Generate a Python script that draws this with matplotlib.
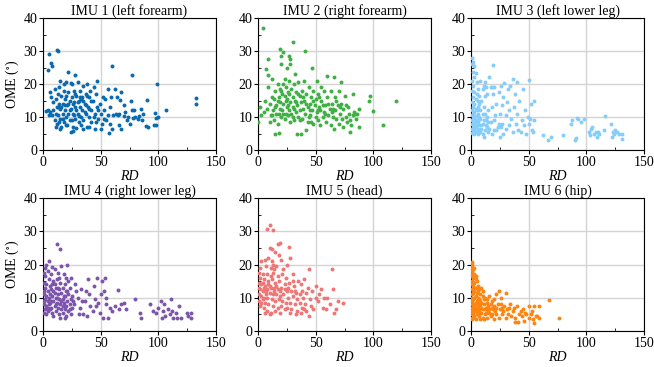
import matplotlib
matplotlib.use("Agg")
import matplotlib.pyplot as plt
from matplotlib.ticker import MultipleLocator
import numpy as np

plt.rcParams['font.family'] = ['Liberation Serif', 'DejaVu Serif']
plt.rcParams['mathtext.fontset'] = 'stix'

titles = ['IMU 1 (left forearm)', 'IMU 2 (right forearm)', 'IMU 3 (left lower leg)',
          'IMU 4 (right lower leg)', 'IMU 5 (head)', 'IMU 6 (hip)']
colours = ['#0b6aae', '#3fb044', '#85cdfb', '#7c55ab', '#f07575', '#ff8410']

# (RD, OME) points
imu1 = [(5,29.2),(4,24.3),(7,26.4),(8,25.6),(12,30.3),(13,30.1),(22,23.6),(28,22.8),(60,25.4),(77,22.8),
        (99,20.1),(133,15.8),(133,13.9),(107,12.1),(100,10.1),(98,9.6),(97,11.1),(96,7.6),(98,7.6),(90,15.1),
        (91,6.9),(89,7.2),(86,9.2),(85,12.5),(83,10.2),(82,9.3),(79,12.1),(78,9.6),(77,12.2),(76,14.9),
        (74,10.1),(71,11.6),(70,10.4),(68,17.5),(68,6.5),(67,15.2),(66,11),(64,16),(62,18.5),(61,10.6),
        (60,6.4),(59,16),(58,13),(57,5.1),(56,18.5),(55,9),(54,15.5),(53,12),(52,16),(51,8),(50,11),
        (49,14),(48,9.5),(47,21),(47,13),(46,17),(45,6.4),(45,11),(44,19),(43,15),(42,8.5),(42,12),
        (41,18),(40,10),(40,16),(39,13),(38,7),(38,20),(37,11),(37,17),(36,14),(35,9),(35,19.5),(34,12),
        (34,16),(33,7.5),(33,10),(32,18),(32,13),(31,15),(31,8.5),(30,20.5),(30,11),(29,16.5),(29,6.8),
        (28,13),(28,9.5),(27,18),(27,14.5),(26,11),(26,7),(25,16),(25,20),(24,5.6),(24,12.5),(23,9),
        (23,15),(22,17.5),(22,11),(21,13.5),(21,7.5),(20,20.5),(20,10),(19,15.5),(19,12),(18,8.5),(18,18),
        (17,14),(17,11),(16,16.5),(16,7),(15,12.5),(15,9.5),(14,19),(14,14),(13,10.5),(13,17),(12,8),
        (12,13),(11,15.5),(11,11),(10,18.5),(10,9),(9,12),(9,14.5),(8,10.5),(7,16),(6,17.5),(6,11.5),
        (5,10.5),(4,12),(3,11.8),(15,21),(18,20),(24,20.3),(26,14),(30,14.5),(35,15),(28,17),(20,16.5),
        (22,14),(33,15.5),(37,13.5),(40,12.5),(44,10),(48,12),(53,9.5),(25,9),(17,9.5),(14,8.5),(31,10.3),
        (36,11.5),(19,13.5),(23,12),(27,10.5),(42,15),(13,13),(11,7),(16,13),(29,12),(32,16),(46,8.5),
        (38,16.5),(56,10.5),(63,11),(66,7.5),(73,9),(80,10),(87,11),(58,8),(65,10.5),(70,13.5),(75,8),
        (15,6.5),(20,7.5),(26,5.8),(35,6.5),(40,7),(50,6.3)]

imu2 = [(4,37.1),(0,8.4),(2,13),(3,10.5),(5,11.5),(6,15),(7,24.6),(8,12.5),(9,27.5),(9,22.6),(9,19),
        (10,8.5),(10,14),(11,10.5),(12,16),(12,21.5),(13,12),(14,9),(14,15.5),(15,4.7),(15,18),(16,11),
        (16,13.5),(17,20),(17,8),(18,5.1),(18,16),(19,30.6),(19,12.5),(19,14.5),(20,28.6),(20,26.2),(20,10),
        (20,18),(21,17),(21,12),(22,29.6),(22,20),(22,14),(23,9.5),(23,16.5),(24,11),(24,19),(25,24.8),
        (25,13),(25,15.5),(26,17.5),(26,10.5),(27,28.6),(27,12),(27,21),(28,27.6),(28,26.1),(28,8.5),
        (28,14.5),(29,18.5),(29,11),(30,32.8),(30,16),(30,13),(31,20),(31,9),(32,23),(32,15),(33,11.5),
        (33,17.5),(34,5),(34,13.5),(35,20.5),(35,10),(36,16.5),(36,12),(37,4.9),(37,14.5),(38,18),(38,9.5),
        (39,12.5),(40,21),(40,15),(41,30),(41,11),(42,6),(42,17),(43,13),(43,8.5),(44,19),(45,14),
        (45,10.5),(46,16),(47,24.8),(47,12),(48,8),(48,18),(49,13.5),(50,10),(50,15.5),(51,21),(51,11.5),
        (52,9),(52,17),(53,13),(54,7.5),(54,12),(55,15),(55,19),(56,10),(57,11.5),(58,13.5),(59,8.5),
        (60,22.5),(60,16),(61,10.5),(62,12.5),(63,7.5),(63,18),(64,14),(65,10),(66,22),(66,6.5),(67,12),
        (67,16),(68,9.5),(69,13.5),(70,8),(70,18),(71,11),(72,20.5),(72,14),(73,9.5),(74,7),(74,12.5),
        (75,16.5),(76,10),(77,8.5),(78,13),(79,11),(80,5.5),(80,9),(81,7.5),(82,17),(82,10.5),(83,11.5),
        (84,11),(85,9.5),(86,10.8),(88,7),(88,12.5),(96,15),(97,16.5),(100,11.8),(108,7.5),(120,15),
        (15,13),(18,11),(22,11),(24,15),(26,13.5),(30,10),(33,14.5),(36,9),(39,16),(42,14),(45,12),
        (48,15),(53,16),(56,13.5),(58,11),(61,14),(64,11.5),(68,15),(71,13),(27,17),(19,18.5),(23,21.5),
        (35,17),(44,10),(12,10.5),(17,15),(31,12.5),(46,8.5),(52,12),(57,18),(65,12.5),(76,13.5)]

imu3 = [(1,27.8),(2,26.8),(1,26.1),(3,25.6),(2,23.5),(4,23.3),(3,22),(1,21),(5,20.5),(2,19.5),(1,18),
        (3,17.5),(5,17),(2,16),(4,15.5),(1,14.5),(6,15),(3,14),(7,14),(2,13),(4,12.5),(1,12),(5,12),
        (3,11.5),(6,11),(2,11),(1,10.5),(4,10.3),(7,10),(3,9.8),(2,9.5),(5,9.2),(1,9),(4,8.8),(6,8.6),
        (3,8.3),(2,8),(1,7.8),(5,7.6),(7,7.5),(3,7.3),(4,7),(2,6.8),(1,6.5),(6,6.3),(3,6.1),(5,5.9),
        (2,5.7),(4,5.5),(1,5.3),(3,5),(6,4.9),(8,5.5),(9,6.5),(10,8),(11,4),(12,6),(13,9),(14,7),(15,5.5),
        (8,12),(9,15),(10,11),(11,13),(12,16.5),(13,19),(14,10),(15,12),(16,22.1),(16,6.5),(17,19),
        (17,8.5),(18,13),(19,25.8),(19,17),(20,19),(20,6),(21,10.5),(22,14),(23,7),(24,17.5),(25,4),
        (25,11),(26,19.3),(27,8),(27,13.5),(28,16),(29,20.3),(30,6.5),(30,10.5),(31,14.5),(32,18.5),
        (33,7.5),(33,12),(34,19.5),(35,9.5),(36,21.6),(36,5.5),(37,13),(38,17),(39,8),(40,20.5),(40,11),
        (41,6),(42,15),(43,5.5),(44,9),(45,18.5),(46,7.5),(47,12),(48,5),(49,10),(50,21.3),(50,8),
        (51,9.5),(52,14),(53,6),(55,15),(55,9),(54,5.5),(62,4.5),(67,3),(69,4),(80,4.5),(87,8),(88,9),
        (90,3),(91,3.5),(92,9.8),(93,9.5),(95,8.5),(98,9.3),(102,5.5),(103,4.5),(104,6.5),(105,7),
        (107,5),(108,5.5),(109,4),(110,5.5),(111,5),(115,6),(116,10.3),(121,8),(122,4),(123,5.5),
        (124,5),(125,6),(127,5.5),(128,5),(131,4.7),(131,3.3),(10,18.5),(12,20.5),(14,17),(6,13),
        (8,9.5),(9,7.5),(10,5),(11,9),(12,11),(13,7.5),(15,8.5),(18,5),(20,9),(22,6),(24,8),(26,7),
        (28,5),(8,21),(11,19.5),(18,19),(6,18.5),(7,16.5)]

imu4 = [(12,26.2),(15,24.8),(5,21),(3,20),(2,19),(8,19.2),(16,19.5),(21,19.8),(1,17.5),(4,18),(7,17),
        (10,18.5),(13,17.5),(18,17),(20,16),(24,16),(2,16.5),(5,15.5),(9,15),(12,15.5),(15,14.5),(19,14),
        (22,15),(1,14.5),(3,14),(6,13.5),(8,14),(11,13),(14,12.5),(17,13),(20,12),(23,13),(2,13),(4,12),
        (7,12.5),(10,11.5),(13,11),(16,11.5),(19,10.5),(22,11),(25,10.5),(1,11),(3,10.5),(5,10),(8,10.5),
        (11,10),(14,9.5),(17,9.5),(21,9),(24,9.5),(2,9.5),(4,9),(6,8.5),(9,9),(12,8.5),(15,8),(18,8.5),
        (20,7.5),(23,8),(1,8),(3,7.5),(5,8),(7,7),(10,7.5),(13,7),(16,6.5),(19,6.5),(22,6),(25,7),(2,6.5),
        (4,6),(6,6.5),(8,5.5),(11,6),(14,5),(17,5.5),(20,4.5),(24,5),(1,5.5),(3,5),(9,4.5),(15,4),(19,4),
        (28,14),(30,10),(32,7),(33,12.5),(35,5),(36,9),(37,12),(38,4.5),(39,15.7),(40,11),(41,7.5),
        (43,6),(44,13.5),(45,9.5),(46,7.5),(47,16),(48,8.5),(49,5.5),(50,11),(51,15),(52,4),(53,12),
        (54,16),(55,8),(55,10),(56,4),(58,7),(60,6),(62,7.5),(65,12.3),(66,6.5),(68,8),(70,8.5),(72,6.5),
        (80,9.5),(84,5.5),(85,4),(93,8),(95,6),(98,5.5),(100,7),(102,9),(103,4),(104,6),(105,8),
        (106,4.5),(108,6.5),(110,5),(111,9.5),(112,6),(113,4),(115,5.5),(116,4),(118,7.5),(120,4),
        (125,5.5),(126,4.5),(128,5.5),(128,4),(27,8),(29,12),(31,5),(34,9),(0.5,12),(0.5,9),(6,11),
        (9,12),(12,10),(18,10.5),(21,12),(23,6.5),(26,9),(10,14),(14,16),(16,9),(4,7),(7,9),(11,8),
        (13,13),(17,7.5)]

imu5 = [(10,32),(8,30.8),(13,30.5),(10,25),(12,24.8),(17,26.1),(19,26.5),(27,25.2),(15,23.8),(18,23),
        (28,22),(9,22),(12,21),(6,21.3),(3,21),(20,21.5),(25,20),(2,19),(7,19.5),(11,19),(14,18.5),
        (22,18.5),(44,18.7),(64,18.7),(1,17.5),(4,17),(8,17),(13,17.5),(17,16.5),(21,17),(24,16),(30,17),
        (35,15),(40,15.5),(2,16),(5,15.5),(9,15),(12,15.5),(15,14.5),(18,15),(23,14),(27,14.5),(31,13.5),
        (37,14),(43,13),(50,13.5),(55,12.5),(65,12.5),(1,14.5),(3,14),(6,13.5),(9,14),(11,13),(14,13),
        (17,12.5),(20,13),(25,12),(29,12),(33,11.5),(38,12),(42,11.5),(47,12),(53,11),(60,10),(0.5,13),
        (2,12.5),(4,12),(7,12),(10,11.5),(13,11),(16,11),(19,10.5),(22,11),(26,10),(30,10.5),(34,9.5),
        (39,10),(45,9.5),(50,10),(57,10),(1,11),(3,10.5),(5,10),(8,10),(12,9.5),(15,9),(18,9.5),(21,9),
        (24,8.5),(28,8.5),(32,8),(36,8.5),(41,8),(46,7.5),(52,9),(59,6.5),(1,9),(3,8.5),(6,8.5),(9,8),
        (13,7.5),(17,7),(20,7.5),(25,7),(29,6.5),(34,6),(38,7),(42,6),(48,6.5),(2,7.5),(5,7),(8,6),
        (11,5.5),(15,6),(19,5.5),(23,6.5),(28,5.5),(33,5),(37,5.5),(44,4.5),(40,6.5),(66,5.5),(68,6.5),
        (69,9),(74,8.5),(62,8),(56,7),(6,5.5),(10,5),(4,9.5),(7,11),(11,16.5),(14,12),(16,13.5),(19,12),
        (23,12.5),(26,13),(32,12),(36,11),(16,19.5),(13,20),(30,15),(10,13.5),(8,12.5),(5,13),(4,14.5)]

imu6 = [(0.5,20.8),(1,20),(1,19),(2,18.5),(0.5,18),(3,17),(1,16.5),(2,16),(4,15.5),(0.5,15),(3,14.5),
        (5,15),(1,14),(2,13.5),(6,13.5),(4,13),(1,12.5),(3,12),(7,12.5),(9,13),(2,11.5),(5,11.5),(1,11),
        (4,10.5),(8,11),(3,10),(6,10),(10,10.5),(2,9.5),(1,9),(5,9),(7,9.5),(12,10),(4,8.5),(3,8),(9,8.5),
        (16,10.5),(18,9),(24,12),(22,11),(30,11.5),(1,8),(2,7.5),(6,8),(8,7.5),(11,8),(14,8.5),(17,8),
        (20,7.5),(23,8),(26,8),(29,7.5),(33,7),(0.5,7),(3,7),(5,6.5),(7,7),(10,6.5),(13,7),(15,6),
        (19,6.5),(21,6),(25,6.5),(28,6),(31,6.5),(36,6),(40,7.5),(45,6.5),(50,7.5),(55,7.5),(59,7.5),
        (1,6),(2,5.5),(4,6),(6,5.5),(9,5.5),(12,5),(16,5.5),(18,5),(22,5),(27,5),(32,5),(35,4.5),(42,5),
        (47,5.5),(52,5),(57,4.5),(1,5),(3,4.5),(5,5),(7,4.5),(10,4),(14,4),(17,4.5),(24,4),(30,4),(38,4),
        (44,4.5),(50,4),(54,3.5),(59,4),(2,4),(4,3.5),(8,3.5),(11,3.5),(20,3.5),(38,2.8),(41,2.7),(46,3),
        (55,2.5),(68,9.2),(76,3.8),(1,10),(2,12),(3,6),(5,7.5),(6,9),(7,6),(8,9),(9,7),(11,9.5),(12,6.5),
        (13,5.5),(15,7.5),(16,6.5),(18,7),(20,9.5),(22,7),(26,10),(27,7),(34,8),(37,7),(43,6),(48,5),
        (53,6),(56,4.5),(0.5,4),(1,3.5),(2,13),(1,17),(3,19),(4,16.5),(6,12),(10,12),(14,9.5)]

imus = [imu1, imu2, imu3, imu4, imu5, imu6]

fig = plt.figure(figsize=(6.54, 3.67), dpi=100)
W, H = 654, 367
lefts = [43, 258, 471]
rows = [(18, 150), (198, 331)]
axw = 173

for i, (pts, title, col) in enumerate(zip(imus, titles, colours)):
    r, c = divmod(i, 3)
    top, bot = rows[r]
    ax = fig.add_axes([lefts[c] / W, 1 - bot / H, axw / W, (bot - top) / H])
    pts = np.array(pts, dtype=float)
    ax.scatter(pts[:, 0], pts[:, 1], s=8, color=col, linewidths=0, zorder=3)
    ax.set_xlim(0, 150)
    ax.set_ylim(0, 40)
    ax.xaxis.set_major_locator(MultipleLocator(50))
    ax.xaxis.set_minor_locator(MultipleLocator(25))
    ax.yaxis.set_major_locator(MultipleLocator(10))
    ax.yaxis.set_minor_locator(MultipleLocator(5))
    ax.grid(True, which='major', color='#d4d4d4', linewidth=1.0, zorder=0)
    ax.set_axisbelow(True)
    ax.tick_params(which='major', direction='out', length=3, width=0.8, labelsize=10, pad=1)
    ax.tick_params(which='minor', direction='in', length=2, width=0.6)
    for s in ax.spines.values():
        s.set_linewidth(0.8)
    ax.set_title(title, fontsize=10, pad=1.5)
    ax.set_xlabel('RD', fontsize=10, style='italic', labelpad=1)
    if c == 0:
        ax.set_ylabel('OME ($^{\\circ}$)', fontsize=10, labelpad=2)

fig.savefig('out.png', dpi=100)
